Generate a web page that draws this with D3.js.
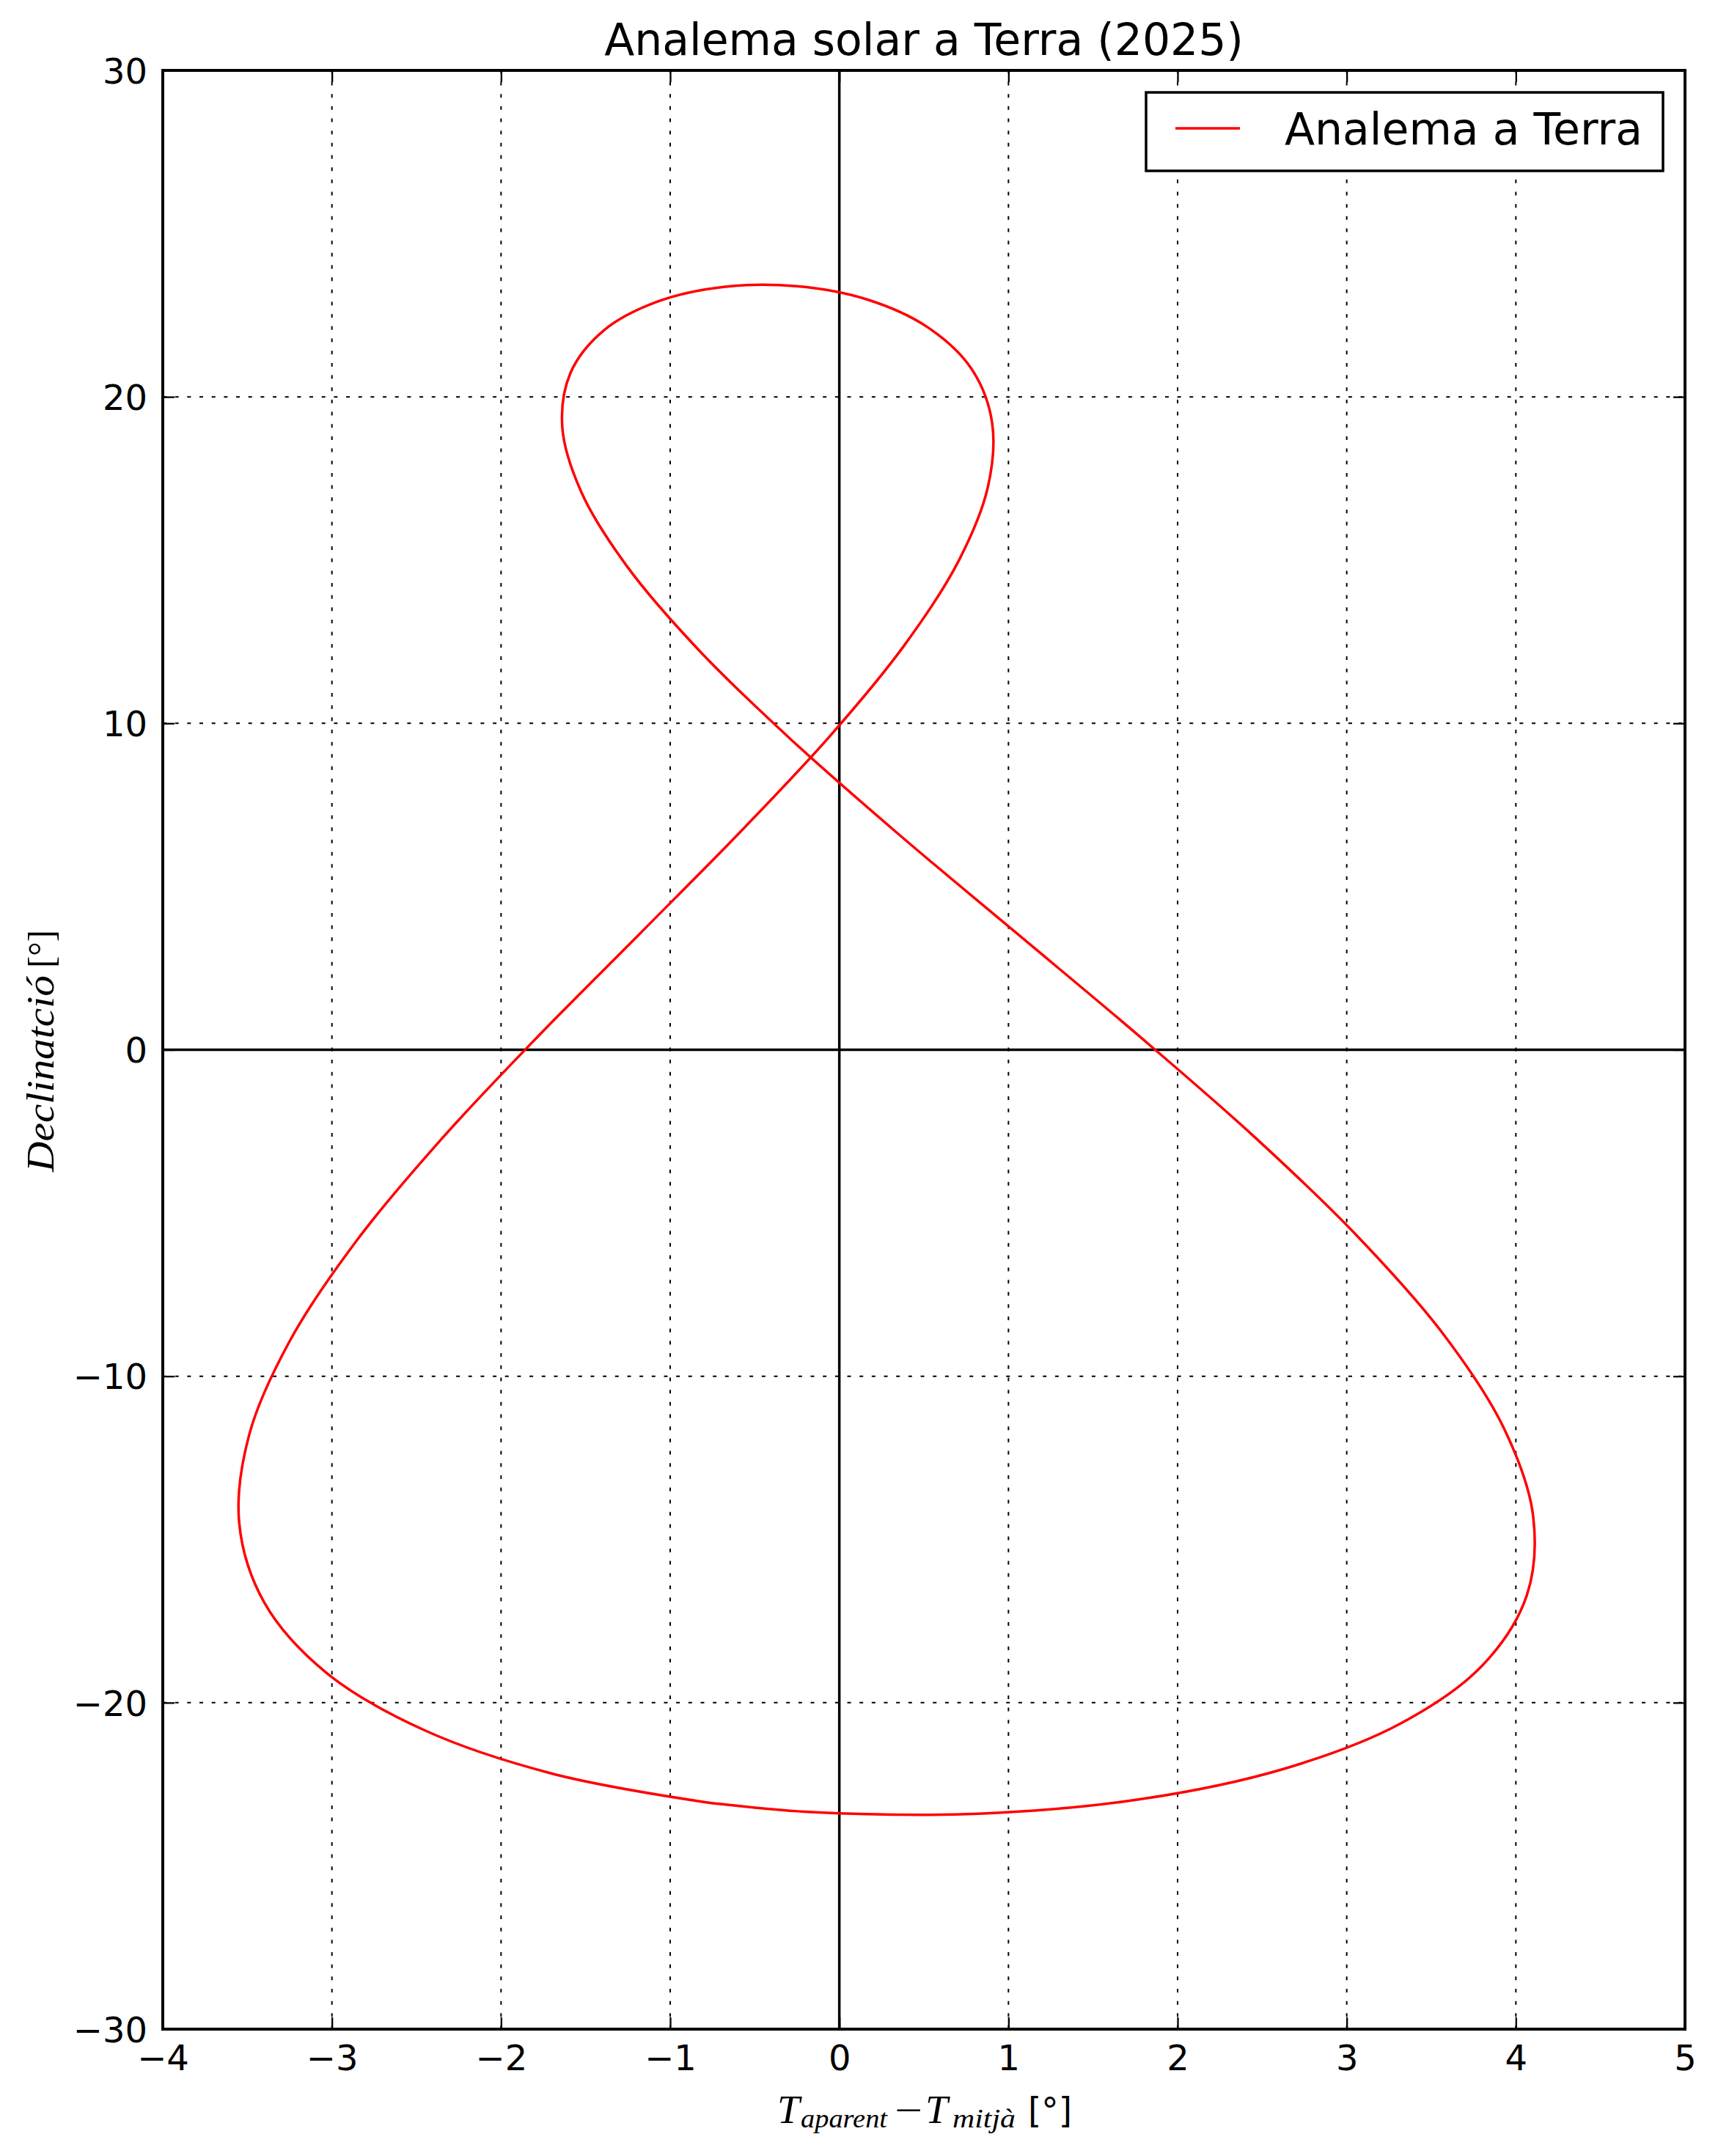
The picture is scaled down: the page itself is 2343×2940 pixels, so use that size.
<!DOCTYPE html>
<html>
<head>
<meta charset="utf-8">
<script src="https://cdn.jsdelivr.net/npm/d3@7"></script>
<style>
  html, body { margin: 0; padding: 0; background: #fff; }
  svg { display: block; }
</style>
</head>
<body>
<script>
// ---- data (read from the picture, sampled every 8 days of 2025 + Dec 31)
// day of year (0 = 1 Jan)
const dayOfYear = [0,8,16,24,32,40,48,56,64,72,80,88,96,104,112,120,128,136,144,152,160,168,176,184,
  192,200,208,216,224,232,240,248,256,264,272,280,288,296,304,312,320,328,336,344,352,360,364];
// T_aparent - T_mitja [deg]
const eotDeg = [-0.802,-1.700,-2.459,-3.034,-3.399,-3.548,-3.489,-3.246,-2.853,-2.348,-1.774,-1.173,
  -0.588,-0.057,0.383,0.702,0.878,0.903,0.780,0.523,0.166,-0.252,-0.684,-1.080,
  -1.394,-1.589,-1.638,-1.526,-1.254,-0.834,-0.289,0.349,1.044,1.757,2.444,3.063,
  3.571,3.929,4.102,4.064,3.800,3.314,2.626,1.777,0.824,-0.167,-0.654];
// declination [deg]
const declDeg = [-23.04,-22.17,-20.83,-19.08,-16.94,-14.50,-11.79,-8.89,-5.84,-2.71,0.45,3.59,
  6.66,9.60,12.38,14.94,17.23,19.22,20.87,22.13,22.98,23.39,23.37,22.91,
  22.03,20.74,19.08,17.09,14.80,12.26,9.52,6.61,3.59,0.49,-2.62,-5.71,
  -8.71,-11.59,-14.28,-16.72,-18.87,-20.65,-22.03,-22.96,-23.40,-23.35,-23.13];
const xTicks = [-4,-3,-2,-1,0,1,2,3,4,5];
const yTicks = [-30,-20,-10,0,10,20,30];
const titleText = "Analema solar a Terra (2025)";
const legendLabel = "Analema a Terra";

// ---- layout
const W = 2343, H = 2940;
const L = 222, R = 2298, T = 96, B = 2767;
const svg = d3.select("body").append("svg").attr("width", W).attr("height", H)
  .style("font-family", "'DejaVu Sans', sans-serif");

const x = d3.scaleLinear().domain([-4, 5]).range([L, R]);
const y = d3.scaleLinear().domain([-30, 30]).range([B, T]);

// grid (dotted)
const grid = svg.append("g").attr("stroke", "#000").attr("stroke-width", 2)
  .attr("stroke-dasharray", "5,11.67");
xTicks.filter(v => v > -4 && v < 5 && v !== 0).forEach(v => {
  grid.append("line").attr("x1", x(v)).attr("x2", x(v)).attr("y1", B).attr("y2", T);
});
yTicks.filter(v => v > -30 && v < 30 && v !== 0).forEach(v => {
  grid.append("line").attr("x1", L).attr("x2", R).attr("y1", y(v)).attr("y2", y(v));
});

// zero lines
svg.append("line").attr("x1", x(0)).attr("x2", x(0)).attr("y1", T).attr("y2", B)
  .attr("stroke", "#000").attr("stroke-width", 3.5);
svg.append("line").attr("x1", L).attr("x2", R).attr("y1", y(0)).attr("y2", y(0))
  .attr("stroke", "#000").attr("stroke-width", 3.5);

// curve
const pts = eotDeg.map((v, i) => [v, declDeg[i]]);
const line = d3.line().x(d => x(d[0])).y(d => y(d[1])).curve(d3.curveCatmullRomClosed.alpha(0.5));
svg.append("path").attr("d", line(pts)).attr("fill", "none")
  .attr("stroke", "#ff0000").attr("stroke-width", 3.5).attr("stroke-linejoin", "round");

// axes (ticks inside, all four sides)
const tickLen = 16;
const axB = d3.axisBottom(x).tickValues(xTicks).tickSizeInner(-tickLen).tickSizeOuter(0).tickPadding(21);
const axT = d3.axisTop(x).tickValues(xTicks).tickSizeInner(-tickLen).tickSizeOuter(0).tickFormat("");
const axL = d3.axisLeft(y).tickValues(yTicks).tickSizeInner(-tickLen).tickSizeOuter(0).tickPadding(21);
const axR = d3.axisRight(y).tickValues(yTicks).tickSizeInner(-tickLen).tickSizeOuter(0).tickFormat("");

function styleAxis(g) {
  g.select(".domain").remove();
  g.selectAll(".tick line").attr("stroke", "#000").attr("stroke-width", 2.3);
  g.selectAll(".tick text").attr("fill", "#000").style("font-size", "48px")
    .style("font-family", "'DejaVu Sans', sans-serif");
}
svg.append("g").attr("transform", `translate(0,${B})`).call(axB).call(styleAxis)
  .selectAll(".tick text").attr("dy", "0.73em");
svg.append("g").attr("transform", `translate(0,${T})`).call(axT).call(styleAxis);
svg.append("g").attr("transform", `translate(${L},0)`).call(axL).call(styleAxis)
  .selectAll(".tick text").attr("dy", "0.36em");
svg.append("g").attr("transform", `translate(${R},0)`).call(axR).call(styleAxis);

// frame
svg.append("rect").attr("x", L).attr("y", T).attr("width", R - L).attr("height", B - T)
  .attr("fill", "none").attr("stroke", "#000").attr("stroke-width", 4);

// title
svg.append("text").attr("x", (L + R) / 2).attr("y", 75).attr("text-anchor", "middle")
  .style("font-size", "60px").text(titleText);

// legend
const lg = svg.append("g");
lg.append("rect").attr("x", 1563).attr("y", 126).attr("width", 705).attr("height", 107)
  .attr("fill", "#fff").attr("stroke", "#000").attr("stroke-width", 3.5);
lg.append("line").attr("x1", 1603).attr("x2", 1691).attr("y1", 175).attr("y2", 175)
  .attr("stroke", "#ff0000").attr("stroke-width", 3.5);
lg.append("text").attr("x", 1752).attr("y", 197).style("font-size", "60px").text(legendLabel);

// x label  (math italic parts + sans "[°]")
const serif = "'Liberation Serif', 'DejaVu Serif', serif";
function piece(txt, px, py, size, len, italic, fam) {
  const t = svg.append("text").attr("x", px).attr("y", py)
    .style("font-family", fam || serif).style("font-size", size + "px")
    .style("font-style", italic ? "italic" : "normal").text(txt);
  if (len) t.attr("textLength", len).attr("lengthAdjust", "spacingAndGlyphs");
  return t;
}
piece("T", 1060, 2895, 55, null, true);
piece("aparent", 1092, 2901, 36, 118, true);
piece("\u2212", 1220, 2895, 52, 38, false);
piece("T", 1262, 2895, 55, null, true);
piece("mitjà", 1299, 2901, 36, 86, true);
piece("[°]", 1402, 2895, 48, 60, false, "'DejaVu Sans', sans-serif");

// y label (rotated)
svg.append("text").attr("transform", "translate(73,1598) rotate(-90)")
  .style("font-family", serif).style("font-style", "italic").style("font-size", "52px")
  .attr("textLength", 268).attr("lengthAdjust", "spacingAndGlyphs").text("Declinatció");
svg.append("text").attr("transform", "translate(73,1320) rotate(-90)")
  .style("font-family", serif).style("font-size", "50px")
  .attr("textLength", 52).attr("lengthAdjust", "spacingAndGlyphs").text("[°]");
</script>
</body>
</html>
